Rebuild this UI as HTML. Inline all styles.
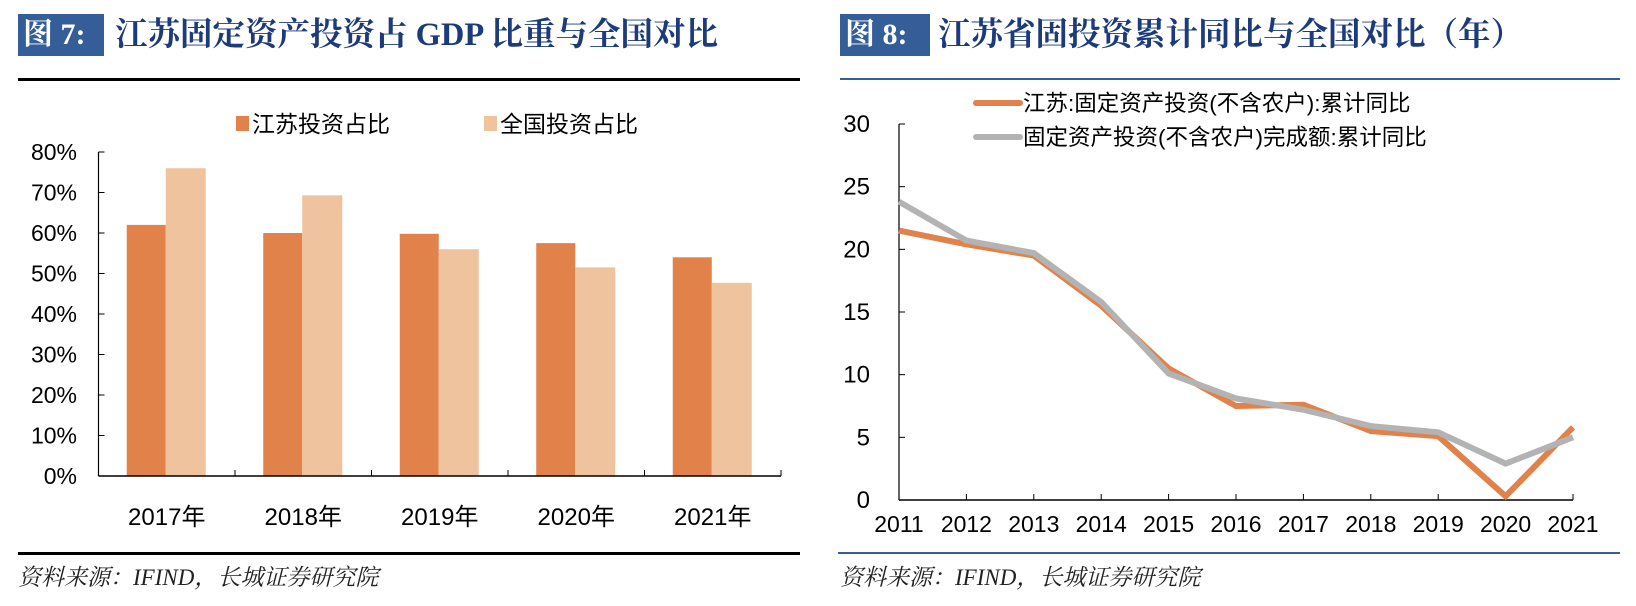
<!DOCTYPE html>
<html><head><meta charset="utf-8">
<style>
body{margin:0;width:1636px;height:606px;background:#fff;position:relative;overflow:hidden;font-family:"Liberation Sans","Noto Sans CJK SC",sans-serif;}
.box{position:absolute;background:#355E98;color:#fff;font-family:"Liberation Serif","Noto Serif CJK SC",serif;font-weight:bold;font-size:30px;line-height:42px;padding-left:5px;box-sizing:border-box;white-space:nowrap;}
.ttl{position:absolute;color:#1B3B7A;font-family:"Liberation Serif","Noto Serif CJK SC",serif;font-weight:bold;font-size:32.5px;line-height:42px;white-space:nowrap;}
.src{position:absolute;font-family:"Liberation Serif","Noto Serif CJK SC",serif;font-style:italic;font-size:23px;color:#222;white-space:nowrap;}
</style></head><body>
<div class="box" style="left:18px;top:14px;width:86px;height:42px;">图 7:</div>
<div class="ttl" style="left:115px;top:14px;">江苏固定资产投资占 GDP 比重与全国对比</div>
<div style="position:absolute;left:18px;top:78px;width:782px;height:3px;background:#000;"></div>
<div class="box" style="left:840px;top:14px;width:90px;height:42px;">图 8:</div>
<div class="ttl" style="left:938px;top:14px;">江苏省固投资累计同比与全国对比（年）</div>
<div style="position:absolute;left:840px;top:78px;width:780px;height:2px;background:#355E98;"></div>
<div style="position:absolute;left:18px;top:552px;width:782px;height:3px;background:#000;"></div>
<div style="position:absolute;left:838px;top:552px;width:782px;height:2px;background:#355E98;"></div>
<div class="src" style="left:18px;top:559px;">资料来源：IFIND，长城证券研究院</div>
<div class="src" style="left:840px;top:559px;">资料来源：IFIND，长城证券研究院</div>

<svg id="svg" width="1636" height="606" style="position:absolute;left:0;top:0" xmlns="http://www.w3.org/2000/svg"></svg>
<script>
const barCats=["2017年","2018年","2019年","2020年","2021年"];
const jiangsuShare=[62,60,59.8,57.5,54];
const nationalShare=[76,69.3,56,51.5,47.7];
const pctTicks=[0,10,20,30,40,50,60,70,80];

const years=["2011","2012","2013","2014","2015","2016","2017","2018","2019","2020","2021"];
const jiangsuYoY=[21.5,20.4,19.5,15.5,10.5,7.5,7.6,5.5,5.1,0.3,5.8];
const nationalYoY=[23.8,20.7,19.7,15.8,10.1,8.1,7.2,5.9,5.4,2.9,5.0];
const lineTicks=[0,5,10,15,20,25,30];

const svg=document.getElementById('svg');
const NS="http://www.w3.org/2000/svg";
function mk(tag,attrs,parent){const e=document.createElementNS(NS,tag);for(const k in attrs)e.setAttribute(k,attrs[k]);(parent||svg).appendChild(e);return e;}
function txt(s,attrs){const e=mk('text',Object.assign({'font-family':'"Liberation Sans","Noto Sans CJK SC",sans-serif',fill:'#000'},attrs));e.textContent=s;return e;}

// ---- bar chart ----
const bx0=98.5,bcw=136.5,by0=476,by80=152;
const by=v=>by0-(v/80)*(by0-by80);
const bg=mk('g',{});


barCats.forEach((c,i)=>{
  const cx=bx0+bcw*(i+0.5);
  const r1=mk('rect',{x:cx-40,y:by(jiangsuShare[i]),width:39,height:by0-by(jiangsuShare[i]),fill:'#E0824A'},bg);
  
  
  const r2=mk('rect',{x:cx-1,y:by(nationalShare[i]),width:40,height:by0-by(nationalShare[i]),fill:'#F0C39F'},bg);
  
  
  const t=txt(c,{x:cx,y:525,'font-size':24,'text-anchor':'middle'});
  
  
  mk('line',{x1:bx0+bcw*(i+1),y1:by0,x2:bx0+bcw*(i+1),y2:by0-6,stroke:'#000','stroke-width':1},bg);
});
mk('line',{x1:bx0,y1:by80,x2:bx0,y2:by0,stroke:'#000','stroke-width':1.2},bg);
mk('line',{x1:bx0,y1:by0,x2:bx0+bcw*5,y2:by0,stroke:'#000','stroke-width':1.5},bg);
pctTicks.forEach(v=>{
  mk('line',{x1:bx0,y1:by(v),x2:bx0+6,y2:by(v),stroke:'#000'},bg);
  const t=txt(v+'%',{x:77,y:by(v)+8,'font-size':23,'text-anchor':'end'});
  
  
});
const lg1=mk('rect',{x:236,y:116,width:13,height:15,fill:'#E0824A'});


const lt1=txt('江苏投资占比',{x:252,y:132,'font-size':23});


const lg2=mk('rect',{x:484,y:116,width:13,height:15,fill:'#F0C39F'});


const lt2=txt('全国投资占比',{x:500,y:132,'font-size':23});



// ---- line chart ----
const lx0=899,lx1=1573,ly0=500,ly30=124;
const lx=i=>lx0+(lx1-lx0)*i/(years.length-1);
const ly=v=>ly0-(v/30)*(ly0-ly30);
const lgp=mk('g',{});


mk('line',{x1:lx0,y1:ly30,x2:lx0,y2:ly0,stroke:'#000','stroke-width':1.2},lgp);
mk('line',{x1:lx0,y1:ly0,x2:lx1,y2:ly0,stroke:'#000','stroke-width':1.5},lgp);
lineTicks.forEach(v=>{
  mk('line',{x1:lx0,y1:ly(v),x2:lx0+6,y2:ly(v),stroke:'#000'},lgp);
  const t=txt(String(v),{x:870,y:ly(v)+8,'font-size':24,'text-anchor':'end'});
  
  
});
years.forEach((y,i)=>{
  mk('line',{x1:lx(i),y1:ly0,x2:lx(i),y2:ly0-6,stroke:'#000'},lgp);
  const t=txt(y,{x:lx(i),y:532,'font-size':23,'text-anchor':'middle'});
  
  
});
const p1=mk('polyline',{points:jiangsuYoY.map((v,i)=>lx(i)+','+ly(v)).join(' '),fill:'none',stroke:'#E0824A','stroke-width':6,'stroke-linejoin':'miter'},lgp);


const p2=mk('polyline',{points:nationalYoY.map((v,i)=>lx(i)+','+ly(v)).join(' '),fill:'none',stroke:'#B3B3B3','stroke-width':6},lgp);


const ll1=mk('line',{x1:976,y1:103,x2:1020,y2:103,stroke:'#E0824A','stroke-width':6,'stroke-linecap':'round'});


const llt1=txt('江苏:固定资产投资(不含农户):累计同比',{x:1023,y:111,'font-size':22.5});


const ll2=mk('line',{x1:976,y1:137,x2:1020,y2:137,stroke:'#B3B3B3','stroke-width':6,'stroke-linecap':'round'});


const llt2=txt('固定资产投资(不含农户)完成额:累计同比',{x:1023,y:145,'font-size':22.5});


</script>
</body></html>
